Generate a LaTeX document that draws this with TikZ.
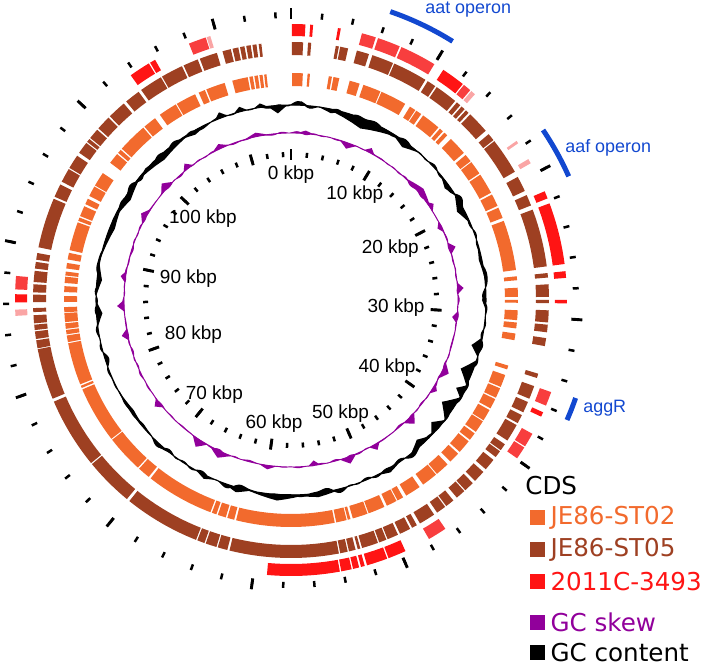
\documentclass[tikz,border=0pt]{standalone}
\usepackage{fontspec}
\setmainfont{Liberation Sans}
\newfontfamily\legfont{DejaVu Sans}
\usetikzlibrary{positioning}
\definecolor{stOrange}{RGB}{242,106,45}
\definecolor{stBrown}{RGB}{158,64,34}
\definecolor{stRed}{RGB}{255,20,20}
\definecolor{stRedL}{RGB}{248,62,62}
\definecolor{stPink}{RGB}{250,165,165}
\definecolor{gcPurple}{RGB}{145,0,155}
\definecolor{opBlue}{RGB}{18,72,208}

\begin{document}
\begin{tikzpicture}[x=0.02cm, y=0.02cm, font=\fontsize{10.8}{13}\selectfont,
  tickmin/.style={line width=0.05cm},
  tickmaj/.style={line width=0.058cm},
  kbp/.style={inner sep=1pt},
  operon/.style={draw=opBlue, line width=0.1cm},
  oplbl/.style={text=opBlue, font=\fontsize{10.2}{12}\selectfont, anchor=base west, inner sep=0pt},
  legsq/.style={minimum size=0.29cm, inner sep=0pt, anchor=south west},
  legtxt/.style={font=\legfont\fontsize{14}{17}\selectfont, inner sep=0pt}]
\useasboundingbox (-291,-366) rectangle (417,300);

% CDS rings
\foreach \a/\b in {0.3/3, 4.2/4.8, 9.6/10.4, 10.8/12.3, 15/17.6, 18.6/23.2, 23.5/30.2, 31.6/33.2,
  33.5/35, 35.6/40.5, 41/42, 42.5/43.5, 44.8/49.6, 50.3/52.3, 52.6/56.1, 56.5/61.8, 62.3/65.5,
  66/68.8, 69.6/82.4, 84/85, 86.9/89.2, 90/90.7, 92.6/95.1, 95.7/97.2, 98.5/100.2, 106.8/107.8,
  109.3/112.5, 112.9/115.5, 115.9/118.5, 119/122, 122.3/125.5, 126/128, 128.5/132, 132.6/135.4,
  136.4/140, 140.3/144.4, 145.5/149.5, 150.4/152, 152.3/155, 155.7/160, 160.3/164.2, 164.8/165.5,
  165.8/168.5, 168.9/194, 194.5/196.3, 196.7/198.8, 199.2/200.4, 200.8/218.2, 218.8/222, 222.4/232,
  232.3/246.8, 247.2/247.8, 248.2/259, 259.3/261, 261.3/262.4, 262.7/264.1, 264.4/266.7,
  266.9/268.2, 269.5/271, 272/273.5, 274.3/275.9, 276.2/277.2, 278/279.4, 280.3/282, 282.7/290,
  290.4/291.3, 291.7/294.4, 295/296.5, 297.3/300, 300.3/304, 307.2/310, 310.4/311.4, 311.8/319.4,
  319.8/323.2, 324.7/329.5, 329.8/335, 336/337.7, 338.1/343, 345/349, 349.4/350.3, 350.7/351.6,
  352/352.8, 353.2/353.8}
  \fill[stOrange] ({90-\a}:214) arc[start angle={90-\a}, end angle={90-\b}, radius=214]
    -- ({90-\b}:227) arc[start angle={90-\b}, end angle={90-\a}, radius=227] -- cycle;

\foreach \a/\b in {0.2/2.7, 3.8/4.5, 10/10.7, 11/12.8, 14.8/17.6, 18.4/23.3, 23.6/31.4, 32/34,
  34.4/39.5, 40/41, 41.4/42.3, 42.7/43.5, 44/49, 50/51.7, 52/60.2, 61.5/65, 66/68.5, 69.5/82.5,
  84/85, 86.5/89.3, 90/90.7, 92.3/95, 95.5/97.2, 98.5/100.3, 106.6/107.6, 109.5/112.5, 113.3/115.8,
  116.5/118.5, 119/123, 124/125.6, 125.9/127.5, 128.3/131, 131.8/134.5, 135.2/137.5, 137.8/140,
  141/143, 143.3/145.5, 146.3/150, 150.8/152, 152.5/155, 155.5/158, 158.3/160, 160.3/164,
  164.4/165, 165.5/167, 167.3/169, 169.3/193.8, 194.3/196.5, 196.8/199.3, 199.6/201.3,
  201.6/218.8, 219.5/230.5, 230.8/246.8, 247.5/259, 259.2/261, 261.3/263, 263.3/264.5,
  264.8/266.6, 267.3/268.2, 269.5/271.2, 271.7/273.5, 274/276.5, 277/278.5, 279/280.5,
  281.8/293.1, 293.6/296.6, 297.3/300.5, 300.8/304, 304.8/307.5, 307.8/308.6, 308.9/311.3,
  311.7/315, 315.4/319.6, 320.3/323.8, 324.5/329.7, 330/335, 335.4/338.8, 339.3/343.3,
  344.6/346.5, 346.9/348.2, 348.6/349.6, 350/351, 351.4/352.3, 352.8/353.4}
  \fill[stBrown] ({90-\a}:245) arc[start angle={90-\a}, end angle={90-\b}, radius=245]
    -- ({90-\b}:258) arc[start angle={90-\b}, end angle={90-\a}, radius=258] -- cycle;

\foreach \a/\b/\c in {0.2/3/stRed, 4/4.6/stRed, 9.8/10.4/stRed, 14.9/17.9/stRedL, 18.4/23.2/stRedL,
  23.6/31.3/stRedL, 33.5/38.5/stRed, 38.8/40.5/stRedL, 40.8/41.8/stPink, 54.8/55.4/stPink,
  59.3/60.3/stPink, 66.8/68.4/stRed, 69.5/82.5/stRed, 84/85.4/stRed, 90/90.7/stRed,
  109.5/112.5/stRedL, 114/115/stRed, 119/122/stRedL, 122.3/125/stRedL, 146/150/stRedL,
  155.5/159.3/stRed, 159.6/164/stRed, 164.5/165.3/stRed, 165.7/167/stRed, 167.3/169.5/stRed,
  169.8/185/stRed, 266.7/268/stPink, 269.5/271.2/stRed, 272.2/275/stRedL, 324.5/329/stRed,
  329.3/330.5/stRed, 338.3/342/stRedL, 342.2/343/stPink}
  \fill[\c] ({90-\a}:264) arc[start angle={90-\a}, end angle={90-\b}, radius=264]
    -- ({90-\b}:276) arc[start angle={90-\b}, end angle={90-\a}, radius=276] -- cycle;

% GC content
\filldraw[line width=0.6pt, even odd rule]
  plot[domain=0:360, samples=721] ({90-\x}:{195+1.6*sin(41*\x)*sin(23*\x+30)
    +1.1*sin(37*\x+70)*sin(7*\x)+1.3*sin(44*\x+10)*sin(13*\x+50)+0.6*sin(31*\x+5)})
  -- cycle (0,0) circle[radius=195];
\foreach \c/\w/\a in {22/12/-10, 36/5/-6, 12/4/-4, 62/5/-7, 54/4/-5, 78/6/-3, 90/3/-4,
  104/3/-9, 112/4/-12, 118/2/-8, 124/4/-13, 131/3/-9, 138/4/-7, 150/4/4, 172/8/4, 184/9/6,
  196/4/5, 206/3/4, 222/4/3, 235/8/-3, 266/4/-6, 276/5/-5, 292/10/-5, 302/8/-6, 318/12/-6,
  330/5/-4, 339/2/6, 345/2/5, 351/2/4, 356/3/-8, 3/2/4}
  \fill plot[domain={\c-\w}:{\c+\w}, samples=9] ({90-\x}:{195+\a*(1-abs(\x-\c)/\w)})
    arc[start angle={90-\c-\w}, end angle={90-\c+\w}, radius=195] -- cycle;

% GC skew
\filldraw[draw=gcPurple, fill=gcPurple, line width=0.5pt, even odd rule]
  plot[domain=0:360, samples=721] ({90-\x}:{167+0.8*sin(41*\x)*sin(29*\x+15)
    +0.5*sin(43*\x+50)*sin(11*\x)+0.6*sin(44*\x+20)*sin(17*\x+40)})
  -- cycle (0,0) circle[radius=167];
\foreach \c/\w/\a in {20/3/-6, 28/2/5, 50/7/6, 56/2/5, 64/2/-4, 72/2/6, 86/2/6, 96/2/-5,
  115/3/7, 122/2/5, 135/2.5/8, 150/2/6, 160/3/7, 172/2/-5, 188/3/4, 205/4/7, 213/3/8, 232/2/6,
  258/2/6, 268/2/7, 278/2/5, 300/3/6, 312/3/7, 322/2/6, 335/3/5, 348/4/4, 5/3/3}
  \fill[gcPurple] plot[domain={\c-\w}:{\c+\w}, samples=9] ({90-\x}:{167+\a*(1-abs(\x-\c)/\w)})
    arc[start angle={90-\c-\w}, end angle={90-\c+\w}, radius=167] -- cycle;

% scales
\foreach \k in {0,2,...,114} {
  \pgfmathsetmacro\ang{90-\k/115*360}
  \draw[tickmin] (\ang:143) -- (\ang:148);
  \draw[tickmin] (\ang:282) -- (\ang:288);
}
\foreach \k in {0,10,...,110} {
  \pgfmathsetmacro\ang{mod(450-\k/115*360,360)}
  \draw[tickmaj] (\ang:140) -- (\ang:151);
  \draw[tickmaj] (\ang:281) -- (\ang:292);
}
\foreach \k in {0,10,...,100} {
  \pgfmathsetmacro\ang{mod(450-\k/115*360,360)}
  \node[kbp, anchor=\ang] (lab\k) at (\ang:136) {\k\ kbp};
}

% operons
\draw[operon] (71:305) arc[start angle=71, end angle=58, radius=305];
\draw[operon] (34:304) arc[start angle=34, end angle=24, radius=304];
\draw[operon] (-19:301) arc[start angle=-19, end angle=-23.5, radius=301];
\node[oplbl] (aat) at (134,286) {aat operon};
\node[oplbl] (aaf) at (274,147) {aaf operon};
\node[oplbl] (aggr) at (292,-113) {aggR};

% legend
\node[legtxt, anchor=base west] (cds) at (234,-195) {CDS};
\node[legsq, fill=stOrange] (sqA) at (239,-225) {};
\node[legsq, fill=stBrown] (sqB) at (239,-257) {};
\node[legsq, fill=stRed] (sqC) at (239,-289) {};
\node[legsq, fill=gcPurple] (sqD) at (239,-330) {};
\node[legsq, fill=black] (sqE) at (239,-360) {};
\node[legtxt, text=stOrange, right=0.1cm of sqA] (txA) {JE86-ST02};
\node[legtxt, text=stBrown, right=0.1cm of sqB] (txB) {JE86-ST05};
\node[legtxt, text=stRed, right=0.1cm of sqC] (txC) {2011C-3493};
\node[legtxt, text=gcPurple, right=0.1cm of sqD] (txD) {GC skew};
\node[legtxt, right=0.1cm of sqE] (txE) {GC content};
\end{tikzpicture}
\end{document}
